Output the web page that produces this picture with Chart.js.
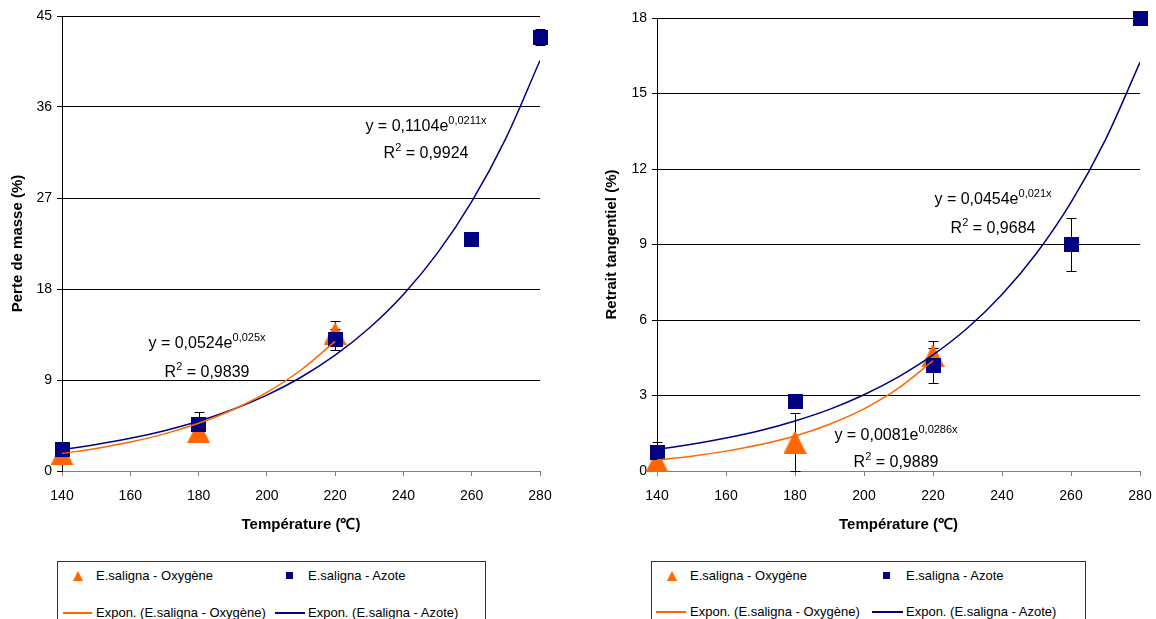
<!DOCTYPE html>
<html lang="fr">
<head>
<meta charset="UTF-8">
<title>Perte de masse et retrait tangentiel</title>
<script src="https://cdn.jsdelivr.net/npm/chart.js"></script>
<style>
  body { margin: 0; background: #fff; width: 1156px; height: 619px; overflow: hidden; position: relative;
         font-family: "Liberation Sans", Arial, sans-serif; color: #000; }
  canvas { position: absolute; top: 0; }
  .eq { position: absolute; width: 200px; text-align: center; font-size: 16px; white-space: nowrap; }
  .eq span { font-size: 11px; position: relative; top: -7px; }
  .legend { position: absolute; top: 561px; height: 80px; border: 1px solid #333; background: #fff;
            font-size: 13px; }
  .item { position: absolute; white-space: nowrap; line-height: 16px; }
  .tri { position: absolute; width: 0; height: 0; border-left: 5px solid transparent;
         border-right: 5px solid transparent; border-bottom: 10px solid #ff6600; }
  .sq { position: absolute; width: 7px; height: 7px; background: #000080; }
  .ln { position: absolute; height: 2px; }
</style>
</head>
<body>
<canvas id="masseChart" width="580" height="545" style="left:0"></canvas>
<canvas id="retraitChart" width="600" height="545" style="left:580px"></canvas>

<div class="eq" style="left:107px; top:329px; line-height:27px">y = 0,0524e<span>0,025x</span><br>R<span>2</span> = 0,9839</div>
<div class="eq" style="left:326px; top:113px; line-height:26px">y = 0,1104e<span>0,0211x</span><br>R<span>2</span> = 0,9924</div>
<div class="eq" style="left:893px; top:185px; line-height:27px">y = 0,0454e<span>0,021x</span><br>R<span>2</span> = 0,9684</div>
<div class="eq" style="left:796px; top:422px; line-height:25px">y = 0,0081e<span>0,0286x</span><br>R<span>2</span> = 0,9889</div>

<div class="legend" style="left:57px; width:427px">
  <div class="tri" style="left:15px; top:9px"></div>
  <div class="item" style="left:38px; top:6px">E.saligna - Oxygène</div>
  <div class="sq" style="left:228px; top:10px"></div>
  <div class="item" style="left:250px; top:6px">E.saligna - Azote</div>
  <div class="ln" style="left:5px; width:29px; top:50px; background:#ff6600"></div>
  <div class="item" style="left:38px; top:43px">Expon. (E.saligna - Oxygène)</div>
  <div class="ln" style="left:217px; width:30px; top:50px; background:#000080"></div>
  <div class="item" style="left:250px; top:43px">Expon. (E.saligna - Azote)</div>
</div>
<div class="legend" style="left:651px; width:433px">
  <div class="tri" style="left:15px; top:9px"></div>
  <div class="item" style="left:38px; top:6px">E.saligna - Oxygène</div>
  <div class="sq" style="left:231px; top:10px"></div>
  <div class="item" style="left:254px; top:6px">E.saligna - Azote</div>
  <div class="ln" style="left:4px; width:30px; top:49px; background:#ff6600"></div>
  <div class="item" style="left:38px; top:42px">Expon. (E.saligna - Oxygène)</div>
  <div class="ln" style="left:220px; width:31px; top:49px; background:#000080"></div>
  <div class="item" style="left:254px; top:42px">Expon. (E.saligna - Azote)</div>
</div>

<script>
// temperatures (°C)
const azoteTemps = [140, 180, 220, 260, 280];
const oxyTemps = [140, 180, 220];
const fitAzoteTemps = [140, 150, 160, 170, 180, 190, 200, 210, 220, 230, 240, 250, 260, 270, 280];
const fitOxyTemps = [140, 150, 160, 170, 180, 190, 200, 210, 220];

// perte de masse (%)
const masseOxy = [1.7, 3.9, 13.6];
const masseOxyErr = [0, 0, 1.2];
const masseAzote = [2.1, 4.6, 13.0, 22.9, 42.9];
const masseAzoteErr = [0, 1.2, 1.0, 0, 0.8];
const masseFitOxy = [1.73, 2.23, 2.86, 3.67, 4.72, 6.06, 7.78, 9.99, 12.82];
const masseFitAzote = [2.12, 2.62, 3.23, 3.99, 4.92, 6.08, 7.51, 9.27, 11.45, 14.14, 17.46, 21.57, 26.64, 32.9, 40.6];

// retrait tangentiel (%)
const retraitOxy = [0.4, 1.15, 4.6];
const retraitOxyErr = [0, 1.15, 0.55];
const retraitAzote = [0.72, 2.78, 4.2, 9.0, 18.0];
const retraitAzoteErr = [0.45, 0, 0.7, 1.05, 0];
const retraitFitOxy = [0.44, 0.59, 0.79, 1.05, 1.39, 1.86, 2.47, 3.29, 4.38];
const retraitFitAzote = [0.86, 1.06, 1.31, 1.61, 1.99, 2.45, 3.03, 3.74, 4.61, 5.68, 7.01, 8.65, 10.67, 13.17, 16.24];

const masseTicks = [0, 9, 18, 27, 36, 45];
const retraitTicks = [0, 3, 6, 9, 12, 15, 18];

const ORANGE = '#ff6600';
const NAVY = '#000080';

Chart.defaults.font.family = '"Liberation Sans", Arial, sans-serif';
Chart.defaults.color = '#000';

// marker images, centred on the point like Excel does
function triangle(size, color) {
    const c = document.createElement('canvas');
    c.width = size; c.height = size;
    const g = c.getContext('2d');
    g.fillStyle = color;
    g.beginPath();
    g.moveTo(size / 2, 0);
    g.lineTo(size, size);
    g.lineTo(0, size);
    g.closePath();
    g.fill();
    return c;
}
function square(size, color) {
    const c = document.createElement('canvas');
    c.width = size; c.height = size;
    const g = c.getContext('2d');
    g.fillStyle = color;
    g.fillRect(0, 0, size, size);
    return c;
}
const triMarker = triangle(23, ORANGE);
const sqMarker = square(15, NAVY);

function pts(xs, ys) {
    return xs.map((x, i) => ({ x: x, y: ys[i] }));
}

// error bars drawn under the markers
const errorBars = {
    id: 'errorBars',
    beforeDatasetsDraw(chart) {
        const ctx = chart.ctx;
        const xs = chart.scales.x, ys = chart.scales.y;
        ctx.save();
        ctx.strokeStyle = '#000';
        ctx.lineWidth = 1;
        chart.data.datasets.forEach(ds => {
            if (!ds.errors) return;
            ds.data.forEach((p, i) => {
                const e = ds.errors[i];
                if (!e) return;
                const px = Math.round(xs.getPixelForValue(p.x)) + 0.5;
                const top = Math.round(ys.getPixelForValue(p.y + e)) + 0.5;
                const bot = Math.round(ys.getPixelForValue(p.y - e)) + 0.5;
                ctx.beginPath();
                ctx.moveTo(px, top); ctx.lineTo(px, bot);
                ctx.moveTo(px - 5, top); ctx.lineTo(px + 5, top);
                ctx.moveTo(px - 5, bot); ctx.lineTo(px + 5, bot);
                ctx.stroke();
            });
        });
        ctx.restore();
    }
};

function makeChart(id, opt) {
    return new Chart(document.getElementById(id), {
        type: 'scatter',
        data: {
            datasets: [
                { label: 'Expon. (E.saligna - Oxygène)', data: pts(fitOxyTemps, opt.fitOxy), showLine: true,
                  borderColor: ORANGE, borderWidth: 1.5, pointRadius: 0, cubicInterpolationMode: 'monotone' },
                { label: 'Expon. (E.saligna - Azote)', data: pts(fitAzoteTemps, opt.fitAzote), showLine: true,
                  borderColor: NAVY, borderWidth: 1.5, pointRadius: 0, cubicInterpolationMode: 'monotone' },
                { label: 'E.saligna - Azote', data: pts(azoteTemps, opt.azote), errors: opt.azoteErr,
                  pointStyle: sqMarker, clip: false },
                { label: 'E.saligna - Oxygène', data: pts(oxyTemps, opt.oxy), errors: opt.oxyErr,
                  pointStyle: triMarker, clip: false }
            ]
        },
        options: {
            responsive: false,
            animation: false,
            layout: { padding: opt.padding },
            plugins: { legend: { display: false }, tooltip: { enabled: false } },
            scales: {
                x: {
                    type: 'linear', min: 140, max: 280,
                    afterFit: s => { s.height = 74; },
                    afterBuildTicks: s => { s.ticks = fitAzoteTemps.filter(t => t % 20 === 0).map(v => ({ value: v })); },
                    grid: { drawOnChartArea: false, drawTicks: true, tickLength: 5, color: '#808080' },
                    border: { color: '#808080' },
                    ticks: { font: { size: 14 }, padding: 12, maxRotation: 0 },
                    title: { display: true, text: 'Température (℃)', font: { size: 15, weight: 'bold' },
                             padding: { top: 4, bottom: 11 } }
                },
                y: {
                    min: 0, max: opt.ticks[opt.ticks.length - 1],
                    afterFit: s => { s.width = opt.yWidth; },
                    afterBuildTicks: s => { s.ticks = opt.ticks.map(v => ({ value: v })); },
                    grid: { color: '#000', tickLength: 5 },
                    border: { color: '#000' },
                    ticks: { font: { size: 14 }, padding: 5 },
                    title: { display: true, text: opt.yTitle, font: { size: 15, weight: 'bold' },
                             padding: { top: opt.yTitlePad, bottom: 0 } }
                }
            }
        },
        plugins: [errorBars]
    });
}

makeChart('masseChart', {
    oxy: masseOxy, oxyErr: masseOxyErr, azote: masseAzote, azoteErr: masseAzoteErr,
    fitOxy: masseFitOxy, fitAzote: masseFitAzote, ticks: masseTicks,
    yTitle: 'Perte de masse (%)', yWidth: 62, yTitlePad: 9,
    padding: { top: 16, right: 40, left: 0, bottom: 0 }
});

makeChart('retraitChart', {
    oxy: retraitOxy, oxyErr: retraitOxyErr, azote: retraitAzote, azoteErr: retraitAzoteErr,
    fitOxy: retraitFitOxy, fitAzote: retraitFitAzote, ticks: retraitTicks,
    yTitle: 'Retrait tangentiel (%)', yWidth: 77, yTitlePad: 23,
    padding: { top: 18, right: 40, left: 0, bottom: 0 }
});
</script>
</body>
</html>
